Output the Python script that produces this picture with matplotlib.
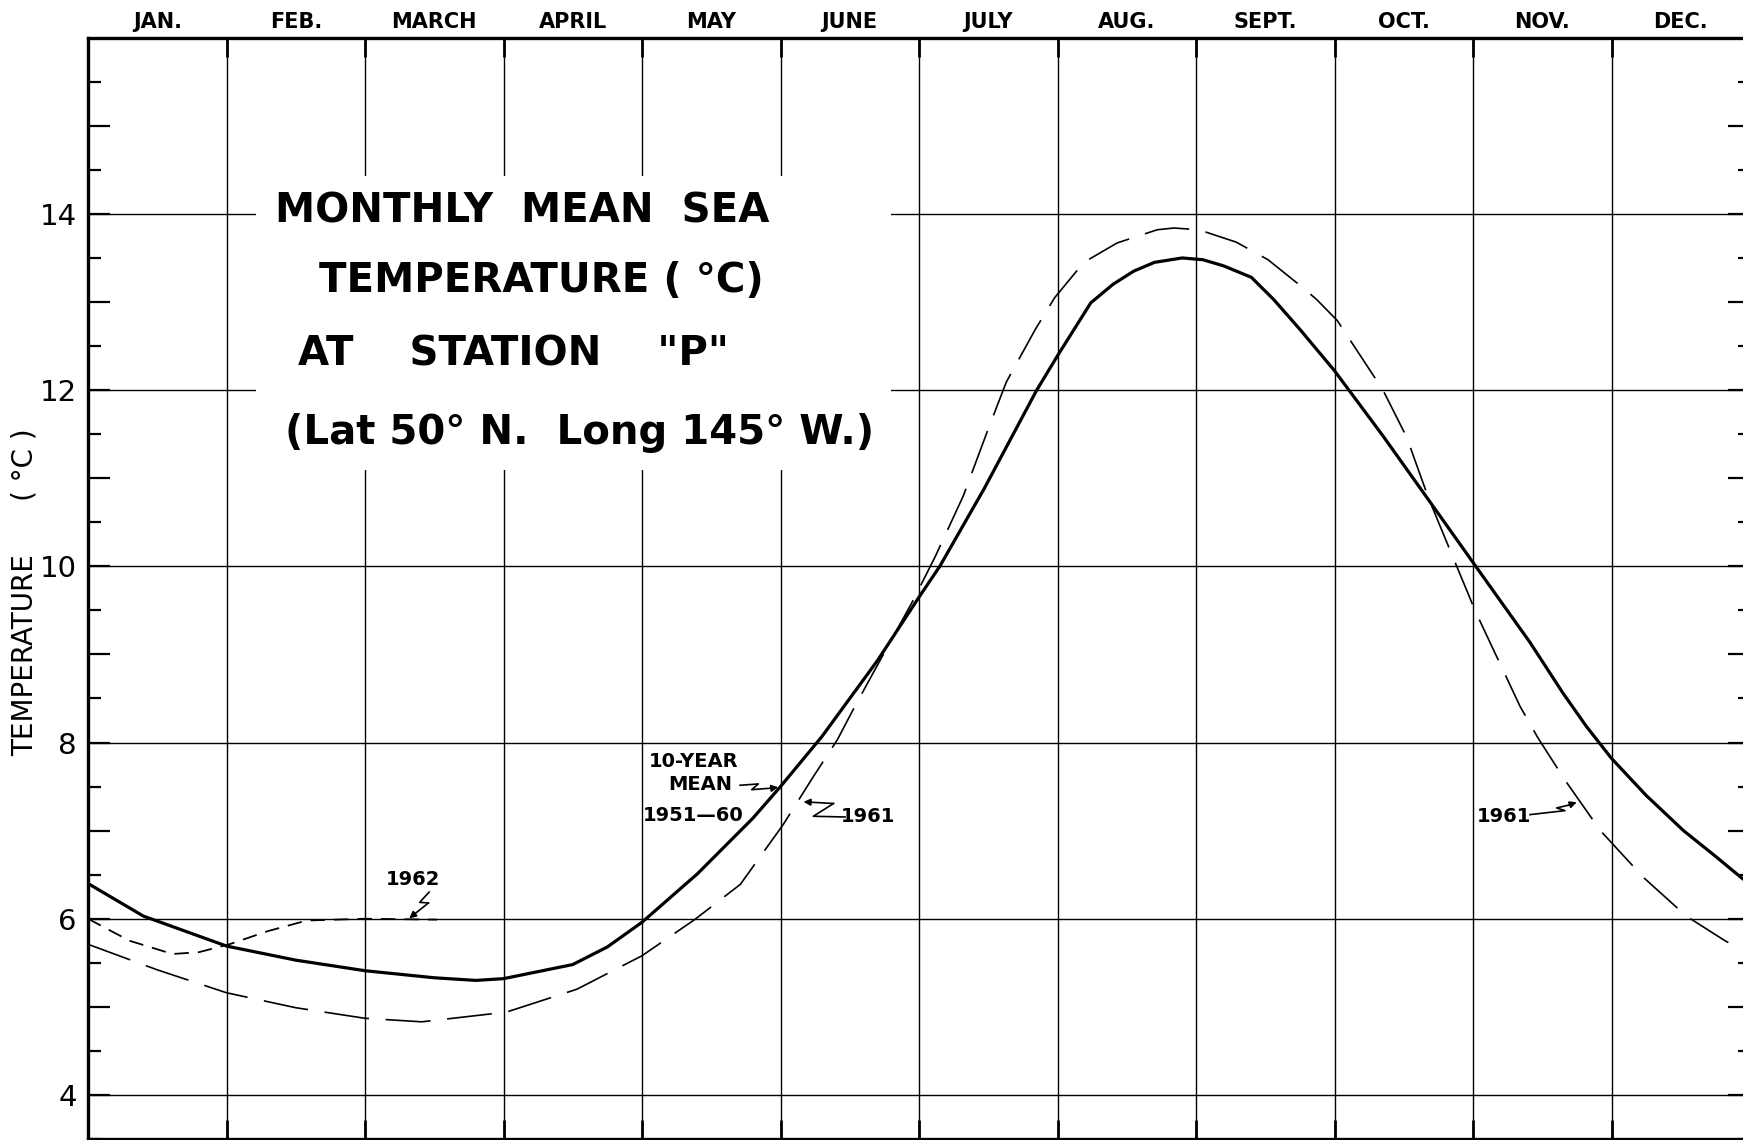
import matplotlib
matplotlib.use("Agg")
import matplotlib.pyplot as plt
import matplotlib.transforms as mtransforms
from matplotlib.patches import Rectangle

plt.rcParams["font.family"] = ["DejaVu Sans"]

# months along the top, x runs 0 (1 Jan) .. 12 (end of Dec)
month_names = ["JAN.", "FEB.", "MARCH", "APRIL", "MAY", "JUNE",
               "JULY", "AUG.", "SEPT.", "OCT.", "NOV.", "DEC."]

# 10-year mean 1951-60 (solid)
mean_x = [0.0, 0.4, 1.0, 1.5, 2.0, 2.5, 2.8, 3.0, 3.5, 3.75, 4.0, 4.4, 4.8,
          5.0, 5.3, 5.7, 6.0, 6.15, 6.47, 6.85, 7.0, 7.24, 7.4, 7.55, 7.7,
          7.9, 8.05, 8.2, 8.4, 8.56, 8.75, 9.0, 9.35, 9.69, 10.02, 10.41,
          10.65, 10.82, 11.0, 11.25, 11.52, 11.75, 11.95]
mean_y = [6.40, 6.03, 5.69, 5.53, 5.41, 5.33, 5.30, 5.32, 5.48, 5.68, 5.96,
          6.51, 7.14, 7.50, 8.07, 8.93, 9.65, 10.0, 10.88, 12.0, 12.39,
          12.99, 13.20, 13.35, 13.45, 13.50, 13.48, 13.41, 13.28, 13.03,
          12.69, 12.22, 11.48, 10.73, 10.0, 9.14, 8.56, 8.18, 7.82, 7.40,
          7.0, 6.71, 6.45]

# 1961 (long dashes)
y1961_x = [0.0, 0.5, 1.0, 1.5, 2.0, 2.41, 3.02, 3.53, 4.0, 4.38, 4.71, 5.02,
           5.24, 5.41, 5.53, 5.69, 5.96, 6.12, 6.32, 6.5, 6.63, 6.84, 6.98,
           7.19, 7.43, 7.72, 7.84, 8.02, 8.29, 8.52, 8.75, 8.87, 9.02, 9.35,
           9.52, 9.68, 9.88, 10.02, 10.34, 10.47, 10.67, 10.92, 11.23,
           11.54, 11.82, 11.95]
y1961_y = [5.71, 5.42, 5.16, 4.99, 4.87, 4.83, 4.94, 5.20, 5.58, 5.99, 6.39,
           7.07, 7.62, 8.03, 8.39, 8.85, 9.62, 10.12, 10.80, 11.56, 12.09,
           12.69, 13.05, 13.45, 13.67, 13.82, 13.84, 13.82, 13.68, 13.48,
           13.19, 13.03, 12.79, 12.0, 11.47, 10.77, 10.01, 9.48, 8.41, 8.05,
           7.56, 7.0, 6.47, 6.03, 5.75, 5.64]

# 1962 (short dashes)
y1962_x = [0.0, 0.3, 0.61, 0.8, 1.02, 1.3, 1.58, 2.0, 2.52]
y1962_y = [6.0, 5.75, 5.60, 5.62, 5.71, 5.86, 5.98, 6.0, 5.99]

temp_ticks = list(range(4, 16))
temp_labels = [str(v) if v % 2 == 0 else "" for v in temp_ticks]
half_ticks = [v + 0.5 for v in range(3, 16)]

title_lines = ["MONTHLY  MEAN  SEA", "TEMPERATURE ( °C)",
               'AT    STATION    "P"', "(Lat 50° N.  Long 145° W.)"]
title_pos = [(1.35, 13.90), (1.666, 13.11), (1.514, 12.28), (1.42, 11.39)]

mean_label = ["10-YEAR", "MEAN", "1951—60"]
mean_label_pos = [(4.37, 7.79), (4.42, 7.52), (4.37, 7.17)]

notes = ["1962", "1961", "1961"]
note_pos = [(2.343, 6.45), (5.632, 7.155), (10.224, 7.155)]
note_zigzag = [
    ([2.463, 2.395, 2.458, 2.319], [6.303, 6.186, 6.179, 6.005]),
    ([5.466, 5.237, 5.383, 5.166], [7.155, 7.163, 7.308, 7.327]),
    ([10.412, 10.664, 10.604, 10.688, 10.749], [7.182, 7.227, 7.258, 7.288, 7.322]),
]
mean_zigzag = ([4.708, 4.840, 4.792, 4.948, 4.984], [7.515, 7.530, 7.465, 7.484, 7.492])

fig = plt.figure(figsize=(17.43, 11.40), dpi=100)
ax = fig.add_axes([88 / 1743, 1 / 1140, 12 * 138.5 / 1743, 1101.3 / 1140])
ax.set_xlim(0, 12)
ax.set_ylim(3.52, 16)

for v in range(4, 15, 2):
    ax.axhline(v, color="black", lw=1.0, zorder=1)
for m in range(1, 12):
    ax.axvline(m, color="black", lw=1.0, zorder=1)

# white panel behind the title
ax.add_patch(Rectangle((1.21, 11.09), 4.59, 3.34, facecolor="white",
                       edgecolor="none", zorder=2))

ax.plot(mean_x, mean_y, color="black", lw=2.3, zorder=3,
        solid_capstyle="round", solid_joinstyle="round")
line61, = ax.plot(y1961_x, y1961_y, color="black", lw=1.2, zorder=3)
line61.set_dashes((27, 10))
line62, = ax.plot(y1962_x, y1962_y, color="black", lw=1.3, zorder=3)
line62.set_dashes((8, 5))

for txt, (x, y) in zip(title_lines, title_pos):
    ax.text(x, y, txt, fontsize=29, fontweight="bold", ha="left",
            va="baseline", zorder=4)

for txt, (x, y) in zip(mean_label, mean_label_pos):
    ax.text(x, y, txt, fontsize=14, fontweight="bold", ha="center",
            va="center", zorder=4)

for txt, (x, y) in zip(notes, note_pos):
    ax.text(x, y, txt, fontsize=14, fontweight="bold", ha="center",
            va="center", zorder=4)

for xs, ys in note_zigzag + [mean_zigzag]:
    ax.plot(xs[:-1], ys[:-1], color="black", lw=1.2, zorder=4)
    ax.annotate("", xy=(xs[-1], ys[-1]), xytext=(xs[-2], ys[-2]),
                arrowprops=dict(arrowstyle="-|>", color="black", lw=1.2,
                                mutation_scale=10, shrinkA=0, shrinkB=0),
                zorder=4)

trans = mtransforms.blended_transform_factory(ax.transData, ax.transAxes)
for i, name in enumerate(month_names):
    ax.text(i + 0.5, 1.0145, name, transform=trans, ha="center", va="center",
            fontsize=15, fontweight="bold", clip_on=False)

ax.set_yticks(temp_ticks)
ax.set_yticklabels(temp_labels)
ax.set_yticks(half_ticks, minor=True)
ax.tick_params(axis="y", which="major", direction="in", length=16, width=1.6,
               left=True, right=True, labelsize=21, pad=8)
ax.tick_params(axis="y", which="minor", direction="in", length=9, width=1.6,
               left=True, right=True)
ax.set_xticks(range(1, 12))
ax.tick_params(axis="x", which="major", direction="in", length=14, width=2,
               top=True, bottom=True, labelbottom=False, labeltop=False)

for s in ax.spines.values():
    s.set_linewidth(2.4)
    s.set_zorder(5)

fig.text(25 / 1743, 1 - 592 / 1140, "TEMPERATURE      ( °C )", rotation=90,
         ha="center", va="center", fontsize=20)

fig.savefig("out.png", dpi=100)
